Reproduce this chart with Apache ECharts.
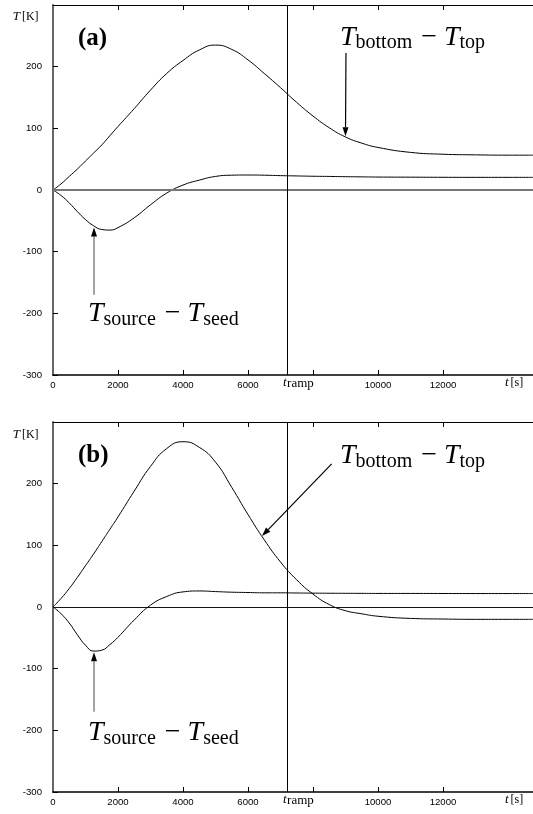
<!DOCTYPE html>
<html><head><meta charset="utf-8">
<script src="https://cdn.jsdelivr.net/npm/echarts@6/dist/echarts.min.js"></script>
<style>html,body{margin:0;padding:0;background:#fff}#c{width:533px;height:814px}</style>
</head><body><div id="c"></div>
<script>
// ---- data ----
const time        = [0, 250, 500, 750, 1000, 1250, 1500, 1750, 2000, 2500, 3000, 3500, 4000, 4500, 5000, 5500, 6000, 6500, 7000, 7500, 8000, 8500, 9000, 9500, 10000, 11000, 12000, 13000, 14000, 14770];
const bottomTopA  = [0, 10, 22, 34, 47, 60, 73, 88, 103, 132, 162, 189, 210, 227, 235, 228, 211, 189, 166, 142, 120, 101, 86, 76, 69, 61, 58, 57, 56.5, 56.5];
const sourceSeedA = [0, -9, -21, -35, -48, -58, -64, -65, -61, -45, -24, -5, 8, 16, 22, 24, 24.3, 24, 23.3, 22.8, 22.3, 22, 21.6, 21.3, 21, 20.8, 20.6, 20.5, 20.5, 20.5];
const bottomTopB  = [0, 14, 30, 48, 67, 86, 106, 126, 146, 188, 228, 257, 268, 259, 235, 194, 150, 109, 73, 44, 21, 4, -6, -11, -15, -18.5, -19.5, -20, -20, -20];
const sourceSeedB = [0, -11, -26, -45, -62, -71.5, -70, -61, -49, -21, 3, 17, 24.5, 26, 25, 24, 23.5, 23, 23, 22.7, 22.5, 22.3, 22.2, 22.1, 22, 22, 21.9, 21.8, 21.8, 21.8];
const tRamp = 7200;
const xMax = 14770;
const xTickValues  = [2000, 4000, 6000, 8000, 10000, 12000];
const xLabelValues = [0, 2000, 4000, 6000, 10000, 12000];
const yTickValues  = [-300, -200, -100, 0, 100, 200, 300];
const yLabelValues = [-300, -200, -100, 0, 100, 200];
const panelLetters = ['(a)', '(b)'];
const yUnitLabel = ['T', '[K]'];
const xUnitLabel = ['t', '[s]'];
const rampLabel = ['t', 'ramp'];
const curveNames = [['T', 'bottom', 'T', 'top'], ['T', 'source', 'T', 'seed']];

// annotation anchors in data coordinates [t, T]
const letterPos = [[770, 232], [770, 232]];
const btLabelPos = [[8830, 232], [8830, 230]];
const ssLabelPos = [[1077, -216], [1077, -219]];
const btArrow = [[[9015, 222], [9000, 87]], [[8575, 232], [6430, 115]]];
const ssArrow = [[[1262, -170], [1262, -61]], [[1262, -170], [1262, -73.5]]];
const yUnitPos = [[-1240, 274], [-1240, 272]];
const xUnitPos = [[13908, -320], [13908, -320]];
const rampLabelPos = [[7077, -320], [7077, -320]];

const serif = '"Liberation Serif", "Times New Roman", serif';
const sans = '"Liberation Sans", Arial, sans-serif';
const chart = echarts.init(document.getElementById('c'), null, {renderer: 'canvas'});
function pairs(vals) { return time.map((t, i) => [t, vals[i]]); }

const panels = [
  {bt: bottomTopA, ss: sourceSeedA, zeroColor: '#777', zeroWidth: 2, top: 5},
  {bt: bottomTopB, ss: sourceSeedB, zeroColor: '#111', zeroWidth: 1, top: 422}
];
const grids = [], xAxes = [], yAxes = [], series = [];
panels.forEach((p, i) => {
  grids.push({left: 53, top: p.top, width: 480, height: 370});
  xAxes.push({type: 'value', gridIndex: i, min: 0, max: xMax, position: 'bottom',
    axisLine: {show: true, onZero: false, lineStyle: {color: '#000', width: 1.5}},
    axisTick: {show: true, inside: true, length: 5, customValues: xTickValues, lineStyle: {color: '#000'}},
    axisLabel: {show: true, customValues: xLabelValues, margin: 5, fontSize: 9.6, fontFamily: sans, color: '#000',
      formatter: v => String(v)},
    splitLine: {show: false}});
  xAxes.push({type: 'value', gridIndex: i, min: 0, max: xMax, position: 'top',
    axisLine: {show: true, onZero: false, lineStyle: {color: '#000', width: 1}},
    axisTick: {show: true, inside: true, length: 5, customValues: xTickValues, lineStyle: {color: '#000'}},
    axisLabel: {show: false}, splitLine: {show: false}});
  yAxes.push({type: 'value', gridIndex: i, min: -300, max: 300, interval: 100, position: 'left',
    axisLine: {show: true, onZero: false, lineStyle: {color: '#666', width: 2}},
    axisTick: {show: true, inside: true, length: 5, customValues: yTickValues, lineStyle: {color: '#000'}},
    axisLabel: {show: true, customValues: yLabelValues, margin: 11, fontSize: 9.6, fontFamily: sans, color: '#000',
      formatter: v => String(v)},
    splitLine: {show: false}});
  series.push({type: 'line', xAxisIndex: 2 * i, yAxisIndex: i, data: pairs(p.bt), smooth: 0.5,
    showSymbol: false, lineStyle: {color: '#000', width: 1}, z: 3,
    markLine: {silent: true, symbol: ['none', 'none'], label: {show: false}, animation: false,
      data: [{yAxis: 0, lineStyle: {color: p.zeroColor, width: p.zeroWidth, type: 'solid'}},
             {xAxis: tRamp, lineStyle: {color: '#000', width: 1, type: 'solid'}}]}});
  series.push({type: 'line', xAxisIndex: 2 * i, yAxisIndex: i, data: pairs(p.ss), smooth: 0.5,
    showSymbol: false, lineStyle: {color: '#000', width: 1}, z: 3});
});

chart.setOption({animation: false, grid: grids, xAxis: xAxes, yAxis: yAxes, series: series});

const meas = document.createElement('canvas').getContext('2d');
function fontOf(p) { return (p.italic ? 'italic ' : '') + (p.bold ? 'bold ' : '') + p.size + 'px ' + serif; }
function tw(text, font) { meas.font = font; return meas.measureText(text).width; }
function toPx(i, pt) { return chart.convertToPixel({xAxisIndex: 2 * i, yAxisIndex: i}, pt); }
function mathText(parts, x, yb) {
  const els = []; let cx = x;
  parts.forEach(p => {
    const font = fontOf(p);
    els.push({type: 'text', x: cx, y: yb + (p.dy || 0) - 0.34 * p.size, silent: true, z: 10,
      style: {text: p.t, font: font, fill: p.color || '#000', align: 'left', verticalAlign: 'middle',
              textAlign: 'left', textVerticalAlign: 'middle'}});
    cx += tw(p.t, font) + (p.gap || 0);
  });
  return els;
}
function arrow(p0, p1, shaftColor) {
  const dx = p1[0] - p0[0], dy = p1[1] - p0[1];
  const L = Math.hypot(dx, dy), ux = dx / L, uy = dy / L;
  const hl = 9, hw = 3;
  const bx = p1[0] - ux * hl, by = p1[1] - uy * hl;
  return [
    {type: 'line', silent: true, z: 10, shape: {x1: p0[0], y1: p0[1], x2: bx, y2: by},
      style: {stroke: shaftColor, lineWidth: 1.2}},
    {type: 'polygon', silent: true, z: 10,
      shape: {points: [[p1[0], p1[1]], [bx - uy * hw, by + ux * hw], [bx + uy * hw, by - ux * hw]]},
      style: {fill: '#000'}}
  ];
}
function curveLabel(names) {
  return [
    {t: names[0], italic: true, size: 28},
    {t: names[1], size: 20, dy: 3, gap: 9},
    {t: '\u2212', size: 28, gap: 7},
    {t: names[2], italic: true, size: 28},
    {t: names[3], size: 20, dy: 3}
  ];
}
let g = [];
for (let i = 0; i < 2; i++) {
  let p = toPx(i, letterPos[i]);
  g = g.concat(mathText([{t: panelLetters[i], bold: true, size: 25}], p[0], p[1]));
  p = toPx(i, btLabelPos[i]);
  g = g.concat(mathText(curveLabel(curveNames[0]), p[0], p[1]));
  p = toPx(i, ssLabelPos[i]);
  g = g.concat(mathText(curveLabel(curveNames[1]), p[0], p[1]));
  g = g.concat(arrow(toPx(i, btArrow[i][0]), toPx(i, btArrow[i][1]), '#000'));
  g = g.concat(arrow(toPx(i, ssArrow[i][0]), toPx(i, ssArrow[i][1]), '#666'));
  p = toPx(i, yUnitPos[i]);
  g = g.concat(mathText([{t: yUnitLabel[0], italic: true, size: 13, gap: 2}, {t: yUnitLabel[1], size: 12}], p[0], p[1]));
  p = toPx(i, xUnitPos[i]);
  g = g.concat(mathText([{t: xUnitLabel[0], italic: true, size: 13, gap: 2}, {t: xUnitLabel[1], size: 12}], p[0], p[1]));
  p = toPx(i, rampLabelPos[i]);
  g = g.concat(mathText([{t: rampLabel[0], italic: true, size: 13, gap: 0.5}, {t: rampLabel[1], size: 13, dy: 1}], p[0], p[1]));
}
chart.setOption({graphic: {elements: g}});
</script>
</body></html>
